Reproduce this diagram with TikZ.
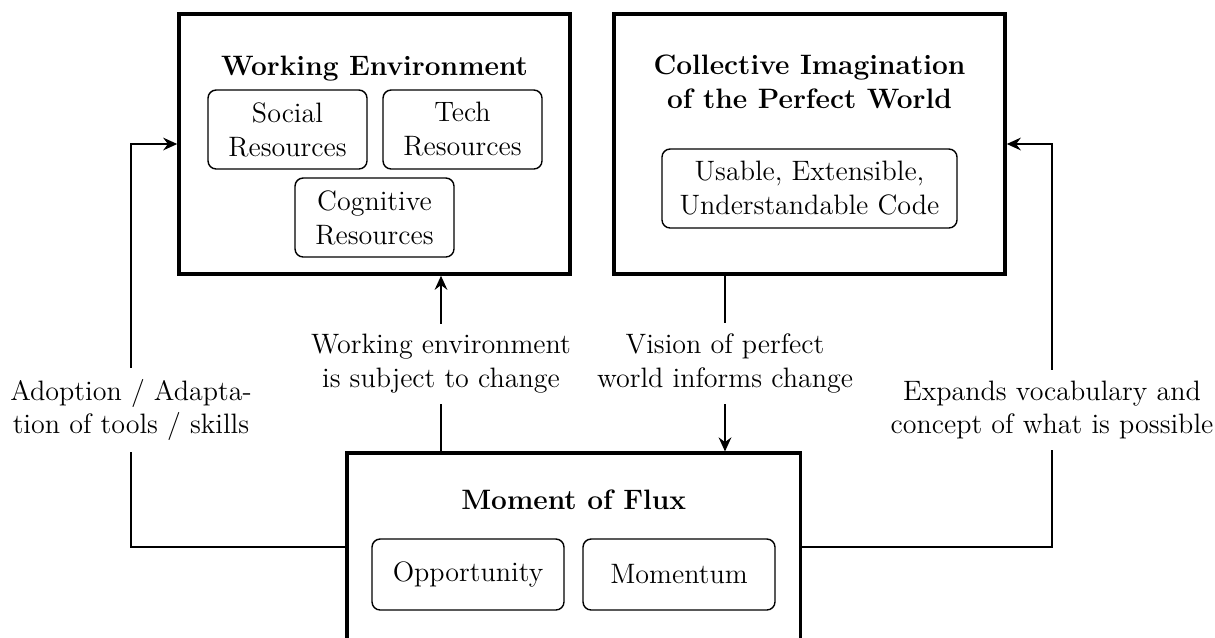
\documentclass[tikz,border=0pt]{standalone}
\usetikzlibrary{arrows.meta}
\begin{document}
\begin{tikzpicture}[x=0.4274pt,y=-0.4274pt,
  font=\fontsize{12}{14.5}\selectfont,
  bigbox/.style={draw, line width=1.5pt, inner sep=0pt},
  smallbox/.style={draw, line width=0.6pt, rounded corners=3.5pt, align=center, inner sep=0pt},
  conn/.style={line width=1pt},
  arr/.style={conn, -{Stealth[length=6pt,width=5.4pt,inset=2pt]}},
  lbl/.style={fill=white, align=center, inner sep=4.5pt},
  ttl/.style={font=\fontsize{12}{14.5}\selectfont\bfseries, align=center}]
\useasboundingbox (0,0) rectangle (1215,637);
\clip (0,0) rectangle (1215,637);

% Working Environment
\node[bigbox, minimum width=167.1pt, minimum height=111.1pt] (we) at (374.5,144) {};
\node[ttl, anchor=base] (wet) at (374.5,75) {Working Environment};
\node[smallbox, minimum width=67.96pt, minimum height=33.76pt] (soc) at (287.5,129.5) {Social\\Resources};
\node[smallbox, minimum width=67.96pt, minimum height=33.76pt] (tec) at (462.5,129.5) {Tech\\Resources};
\node[smallbox, minimum width=67.96pt, minimum height=33.76pt] (cog) at (374.5,217.5) {Cognitive\\Resources};

% Collective Imagination
\node[bigbox, minimum width=167.1pt, minimum height=111.1pt] (ci) at (809.5,144) {};
\node[ttl, anchor=base] (cit) at (809.5,108) {Collective Imagination\\of the Perfect World};
\node[smallbox, minimum width=126.1pt, minimum height=33.76pt] (use) at (809.5,188.5) {Usable, Extensible,\\Understandable Code};

% Moment of Flux
\node[bigbox, minimum width=194pt, minimum height=79.9pt] (mom) at (573.7,546.7) {};
\node[ttl, anchor=base] (momt) at (573.7,509) {Moment of Flux};
\node[smallbox, minimum width=82.06pt, minimum height=30.35pt] (opp) at (468,574.5) {Opportunity};
\node[smallbox, minimum width=82.06pt, minimum height=30.35pt] (mtm) at (679,574.5) {Momentum};

% connector x positions
\coordinate (lx) at (131,0);
\coordinate (rx) at (1052,0);
\coordinate (ux) at (441,0);
\coordinate (dx) at (725,0);

\draw[arr] (mom.west) -- (mom.west -| lx) |- (we.west);
\node[lbl] (ll) at (131,410) {Adoption / Adapta-\\tion of tools / skills};

\draw[arr] (mom.east) -- (mom.east -| rx) |- (ci.east);
\node[lbl] (rl) at (1052,410) {Expands vocabulary and\\concept of what is possible};

\draw[arr] (mom.north -| ux) -- node[lbl] (ul) {Working environment\\is subject to change} (we.south -| ux);
\draw[arr] (ci.south -| dx) -- node[lbl] (dl) {Vision of perfect\\world informs change} (mom.north -| dx);
\end{tikzpicture}
\end{document}
